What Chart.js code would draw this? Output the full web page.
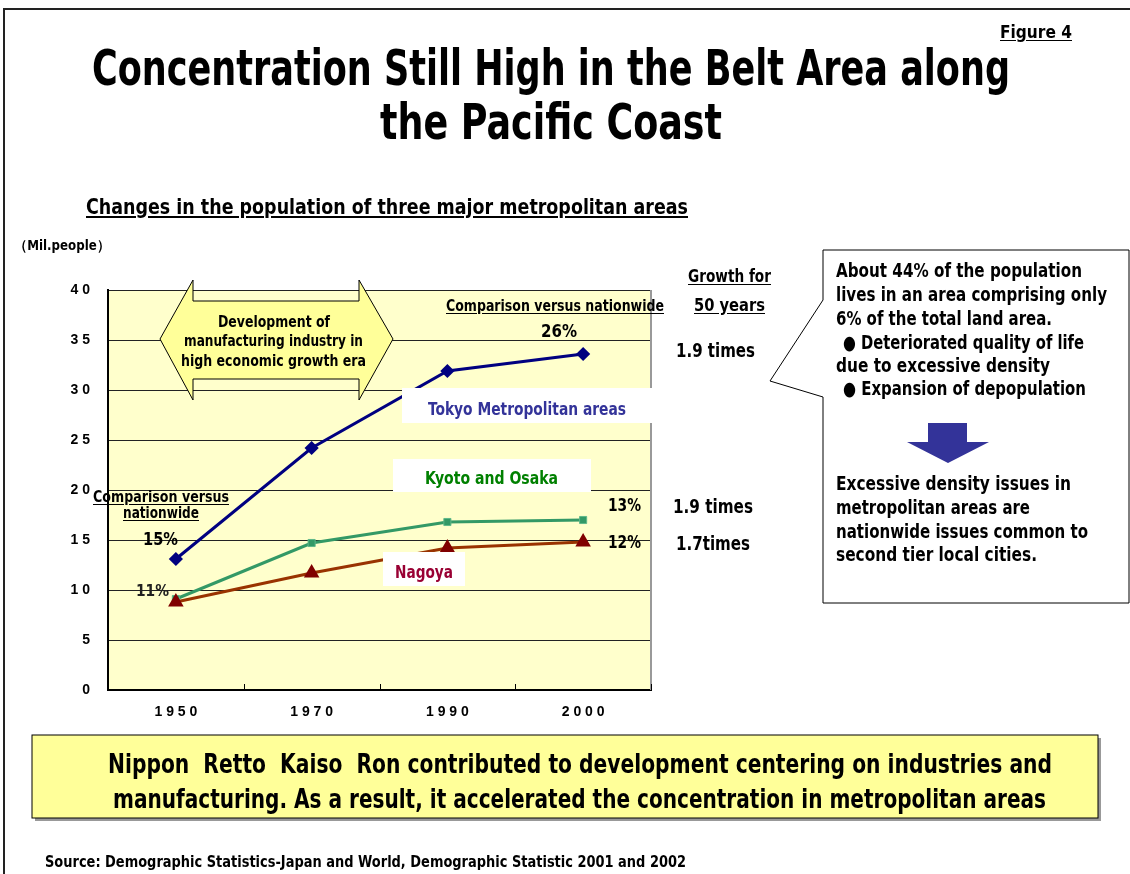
<!DOCTYPE html>
<html>
<head>
<meta charset="utf-8">
<script src="https://cdn.jsdelivr.net/npm/chart.js@4.4.1/dist/chart.umd.min.js"></script>
<style>
  body { margin: 0; background: #fff; }
  #page { position: relative; width: 1130px; height: 874px; overflow: hidden; }
  #frame { position: absolute; left: 3px; top: 8px; width: 1200px; height: 900px; border: 2px solid #222; }
  #chartBox { position: absolute; left: 0; top: 0; width: 1130px; height: 874px; }
  svg { position: absolute; left: 0; top: 0; }
  .t { position: absolute; white-space: pre; font-family: 'Liberation Sans Narrow', 'DejaVu Sans Condensed', 'Liberation Sans', sans-serif; font-weight: bold; line-height: 1; color: #000; transform-origin: 0 50%; }
  .u { text-decoration: underline; text-underline-offset: 2px; }
  .box { position: absolute; background: #fff; }
</style>
</head>
<body>
<div id="page">
  <div id="frame"></div>
  <svg width="1130" height="874">
    <!-- bottom yellow box -->
    <rect x="35" y="738" width="1066" height="83" fill="#999" />
    <rect x="32" y="735" width="1066" height="83" fill="#FFFF99" stroke="#000" stroke-width="1" />
    <!-- callout -->
    <path d="M823,250 H1129 V603 H823 V397 L770,381 L823,300 Z" fill="#fff" stroke="#000" stroke-width="1" />
    <polygon points="928,423 967,423 967,442 989,442 948,463 907,442 928,442" fill="#333399" />
  </svg>
  <div id="chartBox"><canvas id="chart"></canvas></div>
  <svg width="1130" height="874">
    <polygon points="160,339 193,280 193,301 359,301 359,280 393,339 359,400 359,379 193,379 193,400" fill="#FFFF99" stroke="#000" stroke-width="1" />
  </svg>
  <div class="box" style="left:402px;top:388px;width:250px;height:35px"></div>
  <div class="box" style="left:393px;top:459px;width:198px;height:33px"></div>
  <div class="box" style="left:383px;top:552px;width:82px;height:34px"></div>
  <div id="texts"></div>
</div>
<script>
const years = ['1950', '1970', '1990', '2000'];
const tokyo = [13.1, 24.2, 31.9, 33.6];
const kyotoOsaka = [9.1, 14.7, 16.8, 17.0];
const nagoya = [8.8, 11.7, 14.2, 14.8];
const yTicks = [0, 5, 10, 15, 20, 25, 30, 35, 40];

const spaced = s => String(s).split('').join(' ');

const plotBackground = {
  id: 'plotBackground',
  beforeDraw: chart => {
    const { ctx, chartArea: a } = chart;
    ctx.save();
    ctx.fillStyle = '#FFFFCC';
    ctx.fillRect(a.left, a.top, a.right - a.left, a.bottom - a.top);
    ctx.restore();
  },
  afterDraw: chart => {
    const { ctx, chartArea: a, scales } = chart;
    ctx.save();
    // right edge of plot
    ctx.strokeStyle = '#999';
    ctx.lineWidth = 2;
    ctx.beginPath();
    ctx.moveTo(a.right, a.top);
    ctx.lineTo(a.right, a.bottom);
    ctx.stroke();
    // short category dividers pointing up from the x axis
    ctx.strokeStyle = '#000';
    ctx.lineWidth = 1;
    for (let i = 0; i <= years.length; i++) {
      const x = Math.round(scales.x.getPixelForValue(i - 0.5)) + 0.5;
      ctx.beginPath();
      ctx.moveTo(x, a.bottom);
      ctx.lineTo(x, a.bottom - 6);
      ctx.stroke();
    }
    ctx.restore();
  },
};

new Chart(document.getElementById('chart'), {
  type: 'line',
  data: {
    labels: years,
    datasets: [
      { label: 'Tokyo Metropolitan areas', data: tokyo, borderColor: '#000080', backgroundColor: '#000080',
        borderWidth: 3, pointStyle: 'rectRot', pointRadius: 5, order: 1 },
      { label: 'Nagoya', data: nagoya, borderColor: '#993300', backgroundColor: '#800000',
        pointBorderColor: '#800000', borderWidth: 3, pointStyle: 'triangle', pointRadius: 6, order: 2 },
      { label: 'Kyoto and Osaka', data: kyotoOsaka, borderColor: '#339966', backgroundColor: '#339966',
        borderWidth: 3, pointStyle: 'rect', pointRadius: 5, pointBorderColor: '#5fb88a', pointBorderWidth: 1, order: 3 },
    ],
  },
  options: {
    responsive: true,
    maintainAspectRatio: false,
    animation: false,
    layout: { padding: { left: 48, top: 290, right: 479, bottom: 144 } },
    scales: {
      x: {
        offset: true,
        afterFit: s => { s.height = 40; },
        grid: { drawOnChartArea: false, drawTicks: false },
        border: { display: true, color: '#000', width: 2 },
        ticks: { color: '#000', padding: 14, font: { family: 'Liberation Sans', weight: 'bold', size: 14 },
          callback: (v, i) => spaced(years[i]) },
      },
      y: {
        min: 0, max: 40,
        afterFit: s => { s.width = 60; },
        afterBuildTicks: s => { s.ticks = yTicks.map(v => ({ value: v })); },
        grid: { color: '#222', lineWidth: 1, drawTicks: false },
        border: { display: true, color: '#000', width: 2 },
        ticks: { color: '#000', padding: 18, font: { family: 'Liberation Sans', weight: 'bold', size: 14 },
          callback: v => spaced(v) },
      },
    },
    plugins: { legend: { display: false }, tooltip: { enabled: false } },
  },
  plugins: [plotBackground],
});

// text overlays: [text, left, centerY, width, fontSize, extra]
const labels = [
  ['Figure 4', 1000, 32, 72, 18, { u: 1 }],
  ['Concentration Still High in the Belt Area along', 92, 68, 918, 50],
  ['the Pacific Coast', 380, 122, 342, 50],
  ['Changes in the population of three major metropolitan areas', 86, 207, 602, 22, { u: 1 }],
  ['（Mil.people）', 14, 245, 96, 14],
  ['Growth for', 688, 276, 83, 18, { u: 1 }],
  ['50 years', 694, 305, 71, 18, { u: 1 }],
  ['Comparison versus nationwide', 446, 306, 218, 16, { u: 1 }],
  ['26%', 541, 331, 36, 17],
  ['1.9 times', 676, 350, 79, 19],
  ['Development of', 218, 322, 112, 16],
  ['manufacturing industry in', 184, 341, 179, 16],
  ['high economic growth era', 181, 361, 185, 16],
  ['Tokyo Metropolitan areas', 428, 409, 198, 17, { c: '#333399' }],
  ['Kyoto and Osaka', 425, 478, 133, 17, { c: '#008000' }],
  ['Nagoya', 395, 572, 58, 17, { c: '#990033' }],
  ['Comparison versus', 93, 497, 136, 15, { u: 1 }],
  ['nationwide', 123, 513, 76, 15, { u: 1 }],
  ['15%', 143, 539, 35, 17],
  ['11%', 136, 591, 33, 15, { c: '#222' }],
  ['13%', 608, 505, 33, 17],
  ['12%', 608, 542, 33, 17],
  ['1.9 times', 673, 506, 80, 19],
  ['1.7times', 676, 543, 74, 19],
  ['About 44% of the population', 836, 270, 246, 19],
  ['lives in an area comprising only', 836, 294, 271, 19],
  ['6% of the total land area.', 836, 318, 216, 19],
  ['● Deteriorated quality of life', 843, 342, 241, 19],
  ['due to excessive density', 836, 365, 214, 19],
  ['● Expansion of depopulation', 843, 388, 243, 19],
  ['Excessive density issues in', 836, 483, 235, 19],
  ['metropolitan areas are', 836, 507, 194, 19],
  ['nationwide issues common to', 836, 531, 252, 19],
  ['second tier local cities.', 836, 554, 201, 19],
  ['Nippon  Retto  Kaiso  Ron contributed to development centering on industries and', 108, 763, 944, 27],
  ['manufacturing. As a result, it accelerated the concentration in metropolitan areas', 113, 798, 933, 27],
  ['Source: Demographic Statistics-Japan and World, Demographic Statistic 2001 and 2002', 45, 862, 641, 16],
];

const host = document.getElementById('texts');
for (const [text, x, cy, w, size, extra = {}] of labels) {
  const el = document.createElement('div');
  el.className = 't' + (extra.u ? ' u' : '');
  el.textContent = text;
  el.style.fontSize = size + 'px';
  el.style.left = x + 'px';
  el.style.top = (cy - size / 2) + 'px';
  if (extra.c) el.style.color = extra.c;
  host.appendChild(el);
  const natural = el.getBoundingClientRect().width;
  el.style.transform = `scaleX(${w / natural})`;
}
</script>
</body>
</html>
